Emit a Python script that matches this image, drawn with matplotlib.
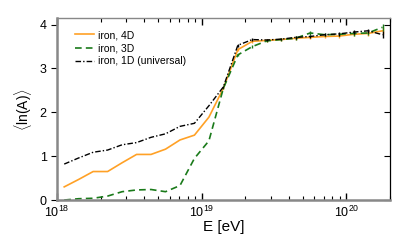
import numpy as np
import matplotlib.pyplot as plt

plt.rcParams['font.family'] = ['Liberation Sans', 'DejaVu Sans']
plt.rcParams['mathtext.fontset'] = 'custom'
plt.rcParams['mathtext.rm'] = 'Liberation Sans'

# bin centres in log10(E/eV)
logE = [18.05, 18.15, 18.25, 18.35, 18.45, 18.55, 18.65, 18.75, 18.85, 18.95,
        19.05, 19.15, 19.25, 19.35, 19.45, 19.55, 19.65, 19.75, 19.85, 19.95,
        20.05, 20.15, 20.25]

lnA_4d = [0.30, 0.47, 0.65, 0.65, 0.85, 1.04, 1.04, 1.16, 1.37, 1.48,
          1.89, 2.55, 3.43, 3.62, 3.64, 3.66, 3.69, 3.71, 3.73, 3.74,
          3.78, 3.80, 3.86]
lnA_3d = [0.00, 0.03, 0.04, 0.09, 0.19, 0.23, 0.24, 0.19, 0.33, 0.95,
          1.35, 2.55, 3.31, 3.50, 3.63, 3.66, 3.69, 3.81, 3.77, 3.78,
          3.80, 3.81, 3.94]
lnA_1d = [0.82, 0.96, 1.09, 1.14, 1.26, 1.31, 1.43, 1.51, 1.68, 1.75,
          2.15, 2.58, 3.53, 3.66, 3.65, 3.67, 3.71, 3.73, 3.77, 3.79,
          3.83, 3.86, 3.77]
err = [0, 0, 0, 0, 0, 0, 0, 0, 0, 0, 0, 0.02, 0.03, 0.03, 0.03, 0.03,
       0.04, 0.04, 0.04, 0.04, 0.05, 0.05, 0.08]

E = 10 ** np.array(logE)

fig, ax = plt.subplots(figsize=(4.07, 2.41), dpi=100)
fig.subplots_adjust(left=0.14, right=0.958, top=0.925, bottom=0.17)

ax.plot(E, lnA_4d, color='#ffa126', lw=1.2, label='iron, 4D')
ax.errorbar(E, lnA_4d, yerr=err, fmt='none', ecolor='#ffa126', elinewidth=1.0)
ax.plot(E, lnA_3d, color='#1a7a1a', ls=(0, (4, 2.5)), lw=1.2, label='iron, 3D')
ax.errorbar(E, lnA_3d, yerr=err, fmt='none', ecolor='#1a7a1a', elinewidth=1.0)
ax.plot(E, lnA_1d, color='black', ls=(0, (4, 1.5, 1, 1.5)), lw=1.0,
        label='iron, 1D (universal)')
ax.errorbar(E, lnA_1d, yerr=err, fmt='none', ecolor='black', elinewidth=1.0)

ax.set_xscale('log')
ax.set_xlim(1e18, 2e20)
ax.set_ylim(0, 4.15)
ax.set_yticks([0, 1, 2, 3, 4])
ax.set_xlabel('E [eV]', fontsize=11, labelpad=0)
ax.set_ylabel(r'$\langle\mathrm{ln(A)}\rangle$', fontsize=10)

ax.tick_params(axis='x', which='both', direction='in', top=True, labelsize=9)
ax.tick_params(axis='x', which='major', length=5, width=1)
ax.tick_params(axis='x', which='minor', length=3, width=0.8)
ax.tick_params(axis='y', which='major', direction='out', length=4, labelsize=9)
ax.tick_params(axis='y', which='minor', left=False)

ax2 = ax.secondary_yaxis('right')
ax2.set_yticks([0, 1, 2, 3, 4])
ax2.tick_params(direction='in', length=4, labelright=False)

for side in ['left', 'bottom']:
    ax.spines[side].set_color('#888888')
    ax.spines[side].set_linewidth(1.8)
ax.spines['top'].set_color('#888888')
ax.spines['top'].set_linewidth(1.0)
ax.spines['right'].set_visible(False)
ax2.spines['right'].set_color('black')
ax2.spines['right'].set_linewidth(0.9)

ax.legend(loc='upper left', frameon=False, fontsize=7.5, handlelength=1.8,
          handletextpad=0.4, labelspacing=0.3, borderaxespad=0.4,
          bbox_to_anchor=(0.03, 0.98))

plt.savefig('out.png', dpi=100)
